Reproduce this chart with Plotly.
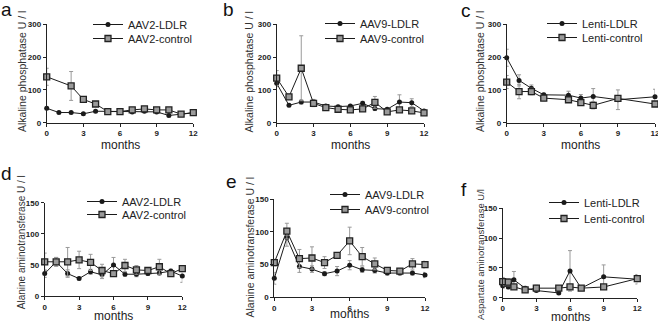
import plotly.graph_objects as go

# ---------------- data ----------------
a_months = [0, 1, 2, 3, 4, 5, 6, 7, 8, 9, 10, 11, 12]
a_ldlr = [44, 31, 31, 27, 35, 35, 33, 33, 35, 33, 22, 27, 30]
a_ldlr_err = [4, 3, 3, 3, 3, 3, 3, 3, 3, 3, 4, 3, 3]
a_ctrl_months = [0, 2, 3, 4, 5, 6, 7, 8, 9, 10, 11, 12]
a_ctrl = [140, 112, 71, 57, 34, 34, 39, 42, 39, 39, 26, 31]
a_ctrl_err = [26, 44, 5, 4, 3, 3, 3, 3, 3, 3, 3, 3]

b_months = [0, 1, 2, 3, 4, 5, 6, 7, 8, 9, 10, 11, 12]
b_ldlr = [120, 53, 63, 63, 51, 49, 51, 59, 43, 41, 63, 61, 36]
b_ldlr_err = [10, 4, 6, 8, 4, 4, 4, 6, 6, 4, 22, 12, 4]
b_ctrl = [136, 79, 166, 59, 46, 41, 39, 42, 62, 33, 39, 36, 30]
b_ctrl_err = [23, 6, 99, 10, 5, 4, 4, 4, 18, 3, 4, 3, 3]

c_months = [0, 1, 2, 3, 5, 6, 7, 9, 12]
c_ldlr = [198, 129, 105, 85, 84, 75, 80, 70, 79]
c_ldlr_err = [26, 17, 10, 5, 12, 11, 24, 30, 23]
c_ctrl = [124, 95, 95, 75, 70, 61, 53, 74, 57]
c_ctrl_err = [20, 22, 10, 5, 6, 6, 11, 5, 5]

d_months = [0, 1, 2, 3, 4, 5, 6, 7, 8, 9, 10, 11, 12]
d_ldlr = [36, 55, 36, 28, 39, 34, 50, 35, 35, 36, 37, 40, 32]
d_ldlr_err = [6, 7, 6, 2, 4, 6, 12, 3, 4, 3, 3, 3, 10]
d_ctrl = [55, 55, 55, 58, 54, 41, 36, 49, 42, 41, 47, 36, 44]
d_ctrl_err = [14, 7, 23, 14, 13, 10, 3, 10, 7, 3, 12, 3, 4]

e_months = [0, 1, 2, 3, 4, 5, 6, 7, 8, 9, 10, 11, 12]
e_ldlr = [29, 91, 47, 43, 36, 40, 49, 42, 41, 37, 37, 37, 34]
e_ldlr_err = [9, 13, 9, 5, 3, 7, 7, 4, 4, 3, 3, 3, 4]
e_ctrl = [53, 101, 59, 60, 53, 64, 86, 62, 51, 41, 40, 51, 50]
e_ctrl_err = [5, 12, 14, 17, 9, 4, 21, 14, 9, 4, 4, 8, 5]

f_months = [0, 0.5, 1, 2, 3, 5, 6, 7, 9, 12]
f_ldlr = [20, 18, 30, 16, 12, 8, 45, 16, 35, 31]
f_ldlr_err = [4, 3, 14, 3, 2, 2, 34, 2, 20, 8]
f_ctrl = [27, 26, 18, 13, 16, 16, 18, 16, 18, 32]
f_ctrl_err = [7, 6, 3, 3, 5, 3, 3, 3, 3, 4]

x_ticks = [0, 3, 6, 9, 12]
top_yticks = [0, 100, 200, 300]
bottom_yticks = [0, 50, 100, 150]

# ---------------- styling / layout ----------------
FONT = "Arial, Liberation Sans, sans-serif"
W, H = 658, 324

panels = [
    dict(letter="a", xl=46.7, xr=193.3, yt=24.3, yb=122.7, ymax=300, yticks=top_yticks,
         ytitle="Alkaline phosphatase U / l", names=("AAV2-LDLR", "AAV2-control"),
         ldlr=(a_months, a_ldlr, a_ldlr_err), ctrl=(a_ctrl_months, a_ctrl, a_ctrl_err),
         lab=(-1, -3), leg=(88, 10, 24), yt_pos=(22, 72, 10.5), xt_y=145),
    dict(letter="b", xl=276.7, xr=424, yt=24.3, yb=122.7, ymax=300, yticks=top_yticks,
         ytitle="Alkaline phosphatase U / l", names=("AAV9-LDLR", "AAV9-control"),
         ldlr=(b_months, b_ldlr, b_ldlr_err), ctrl=(b_months, b_ctrl, b_ctrl_err),
         lab=(221, -3), leg=(320, 9, 24), yt_pos=(248, 72.5, 10.5), xt_y=145),
    dict(letter="c", xl=506.7, xr=655, yt=24.3, yb=122.7, ymax=300, yticks=top_yticks,
         ytitle="Alkaline phosphatase U / l", names=("Lenti-LDLR", "Lenti-control"),
         ldlr=(c_months, c_ldlr, c_ldlr_err), ctrl=(c_months, c_ctrl, c_ctrl_err),
         lab=(459, -2), leg=(542, 9, 23), yt_pos=(480, 72, 10.5), xt_y=145),
    dict(letter="d", xl=44.7, xr=182.3, yt=202.7, yb=296, ymax=150, yticks=bottom_yticks,
         ytitle="Alanine aminotransferase U / l", names=("AAV2-LDLR", "AAV2-control"),
         ldlr=(d_months, d_ldlr, d_ldlr_err), ctrl=(d_months, d_ctrl, d_ctrl_err),
         lab=(-1, 161), leg=(82, 187, 200), yt_pos=(21.7, 242.5, 10), xt_y=315.5),
    dict(letter="e", xl=274.3, xr=425, yt=199, yb=297.3, ymax=150, yticks=bottom_yticks,
         ytitle="Alanine aminotransferase U / l", names=("AAV9-LDLR", "AAV9-control"),
         ldlr=(e_months, e_ldlr, e_ldlr_err), ctrl=(e_months, e_ctrl, e_ctrl_err),
         lab=(224, 169), leg=(325, 180, 195), yt_pos=(250, 247.5, 10.5), xt_y=313.5),
    dict(letter="f", xl=502.7, xr=637.3, yt=208.3, yb=297.7, ymax=150, yticks=bottom_yticks,
         ytitle="Aspartate aminotransferase U/l", names=("Lenti-LDLR", "Lenti-control"),
         ldlr=(f_months, f_ldlr, f_ldlr_err), ctrl=(f_months, f_ctrl, f_ctrl_err),
         lab=(459, 177), leg=(544, 188, 204), yt_pos=(480, 255, 9.5), xt_y=316.5),
]

fig = go.Figure()
layout = dict(
    width=W, height=H, margin=dict(l=0, r=0, t=0, b=0, autoexpand=False),
    paper_bgcolor="white", plot_bgcolor="white",
    font=dict(family=FONT, color="#222"),
    showlegend=True,
    annotations=[],
)


def legend_name(k):
    return "legend" if k == 1 else "legend" + str(k)


for i, p in enumerate(panels, start=1):
    sfx = "" if i == 1 else str(i)
    xa, ya = "x" + sfx, "y" + sfx
    leg1, leg2 = legend_name(2 * i - 1), legend_name(2 * i)
    mx, vy, ve = p["ldlr"]
    cx, cy, ce = p["ctrl"]
    fig.add_trace(go.Scatter(
        x=mx, y=vy, name=p["names"][0], xaxis=xa, yaxis=ya, legend=leg1,
        mode="lines+markers", cliponaxis=False, showlegend=True,
        line=dict(color="#1a1a1a", width=1),
        marker=dict(symbol="circle", size=5, color="#1a1a1a"),
        error_y=dict(type="data", array=ve, color="#9a9a9a", thickness=1, width=2),
    ))
    fig.add_trace(go.Scatter(
        x=cx, y=cy, name=p["names"][1], xaxis=xa, yaxis=ya, legend=leg2,
        mode="lines+markers", cliponaxis=False, showlegend=True,
        line=dict(color="#1a1a1a", width=1),
        marker=dict(symbol="square", size=6, color="#9a9a9a",
                    line=dict(color="#222", width=1.3)),
        error_y=dict(type="data", array=ce, color="#9a9a9a", thickness=1, width=2),
    ))
    axis_common = dict(
        showgrid=False, zeroline=False, showline=True, linecolor="#222", linewidth=1,
        ticks="outside", ticklen=3, tickcolor="#222", tickwidth=1,
        tickfont=dict(family=FONT, size=8, color="#222", weight="bold"),
        ticklabeloverflow="allow",
        fixedrange=True, automargin=False,
    )
    layout["xaxis" + sfx] = dict(
        axis_common, domain=[p["xl"] / W, p["xr"] / W], anchor=ya, range=[0, 12],
        tickvals=x_ticks,
    )
    layout["yaxis" + sfx] = dict(
        axis_common, domain=[1 - p["yb"] / H, 1 - p["yt"] / H], anchor=xa,
        range=[0, p["ymax"]], tickvals=p["yticks"],
    )
    lx, ly1, ly2 = p["leg"]
    for lg, ly in ((leg1, ly1), (leg2, ly2)):
        layout[lg] = dict(
            x=lx / W, y=1 - ly / H, xanchor="left", yanchor="top",
            font=dict(family=FONT, size=11, color="#222"), bgcolor="rgba(0,0,0,0)",
            itemwidth=30, visible=True,
        )
    # panel letter
    layout["annotations"].append(dict(
        text=p["letter"], x=p["lab"][0] / W, y=1 - p["lab"][1] / H,
        xref="paper", yref="paper", xanchor="left", yanchor="top", showarrow=False,
        font=dict(family=FONT, size=19, color="#111"),
    ))
    # y-axis title
    tx, ty, ts = p["yt_pos"]
    layout["annotations"].append(dict(
        text=p["ytitle"], x=tx / W, y=1 - ty / H, textangle=-90,
        xref="paper", yref="paper", xanchor="center", yanchor="middle", showarrow=False,
        font=dict(family=FONT, size=ts, color="#333"),
    ))
    # x-axis title
    layout["annotations"].append(dict(
        text="months", x=(p["xl"] + p["xr"]) / 2 / W, y=1 - p["xt_y"] / H,
        xref="paper", yref="paper", xanchor="center", yanchor="middle", showarrow=False,
        font=dict(family=FONT, size=12, color="#222"),
    ))

fig.update_layout(**layout)
fig.write_html(
    "out.html",
    config={"displayModeBar": False},
    post_script="document.body.style.margin='0';document.body.style.overflow='hidden';",
)
